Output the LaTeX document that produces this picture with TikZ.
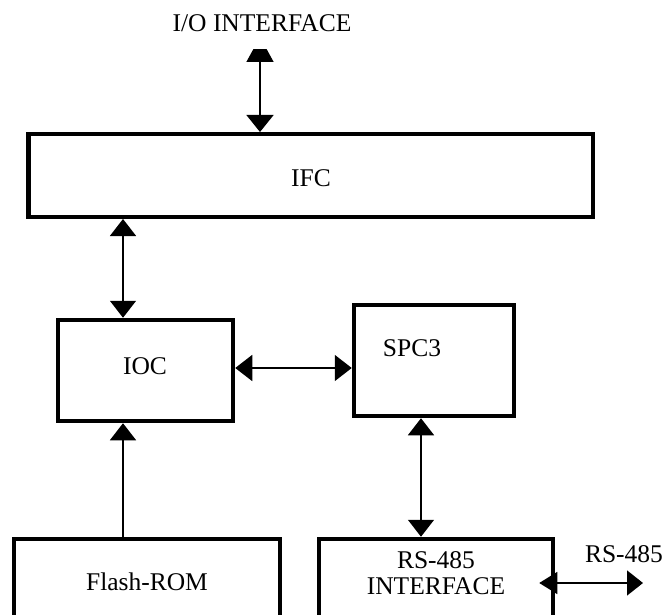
\documentclass[tikz,border=0pt]{standalone}
\usepackage{fontspec}
\setmainfont{Liberation Serif}
\usetikzlibrary{arrows.meta}

\tikzset{
  blk/.style={draw=black, line width=4.5pt, inner sep=0pt, fill=none},
  lbl/.style={font=\fontsize{25.5}{26}\selectfont, inner sep=0pt, align=center},
  link/.style={line width=1.5pt},
  dbl/.style={link, {Triangle[length=17pt, width=26pt]}-{Triangle[length=17pt, width=26pt]}},
  sgl/.style={link, -{Triangle[length=17pt, width=26pt]}}
}

\begin{document}
\begin{tikzpicture}[x=1pt, y=-1pt]
  \useasboundingbox (0,0) rectangle (667,615);
  \fill[white] (0,0) rectangle (667,615);

  % blocks (path centred on the border line)
  \node[blk, minimum width=564.5pt, minimum height=82.5pt] (ifc) at (310.5,175.5) {};
  \node[blk, minimum width=175pt, minimum height=101pt] (ioc) at (145.5,370.5) {};
  \node[blk, minimum width=160pt, minimum height=111pt] (spc) at (434,360.5) {};
  \node[blk, minimum width=266pt, minimum height=86pt] (flash) at (147,582) {};
  \node[blk, minimum width=234pt, minimum height=86pt] (rs) at (436,582) {};

  % block texts
  \node[lbl] (iotxt) at (262,23) {I/O INTERFACE};
  \node[lbl] (ifctxt) at (311,178) {IFC};
  \node[lbl] (ioctxt) at (145,366) {IOC};
  \node[lbl] (spctxt) at (412,348) {SPC3};
  \node[lbl] (flashtxt) at (147,582) {Flash-ROM};
  \node[lbl] (rstxt) at (436,573) {RS-485\\INTERFACE};
  \node[lbl] (rsout) at (624,554) {RS-485};

  % guide coordinates for connector lines
  \coordinate (io) at (260,37);
  \coordinate (cx1) at (123,0);
  \coordinate (cy2) at (0,368);
  \coordinate (cx3) at (421,0);
  \coordinate (cy4) at (0,583);
  \coordinate (busend) at (643,583);

  % I/O interface link (top head cut flat)
  \begin{scope}
    \clip (0,50) rectangle (667,615);
    \draw[link, {Triangle[length=25pt, width=27pt]}-{Triangle[length=17pt, width=27pt]}]
      (io) -- (io |- ifc.north);
  \end{scope}

  % IFC <-> IOC
  \draw[dbl] (cx1 |- ifc.south) -- (cx1 |- ioc.north);
  % IOC <-> SPC3
  \draw[dbl] (ioc.east |- cy2) -- (spc.west |- cy2);
  % SPC3 <-> RS-485 interface
  \draw[dbl] (cx3 |- spc.south) -- (cx3 |- rs.north);
  % Flash-ROM -> IOC
  \draw[sgl] (cx1 |- flash.north) -- (cx1 |- ioc.south);
  % RS-485 bus
  \draw[link, {Triangle[length=18pt, width=22pt]}-{Triangle[length=16pt, width=25pt]}]
    ([xshift=-16pt]rs.east |- cy4) -- (busend);
\end{tikzpicture}
\end{document}
